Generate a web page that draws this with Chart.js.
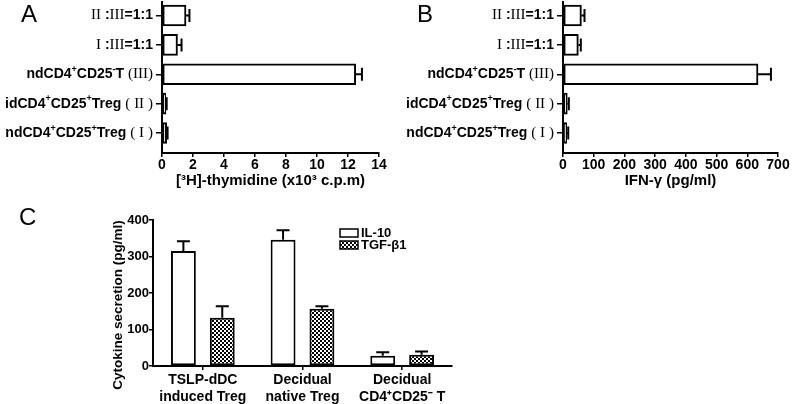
<!DOCTYPE html>
<html><head><meta charset="utf-8">
<script src="https://cdn.jsdelivr.net/npm/chart.js@4.4.0/dist/chart.umd.min.js"></script>
<style>
html,body{margin:0;padding:0;background:#fff;}
#wrap{position:relative;width:794px;height:404px;overflow:hidden;background:#fff;}
canvas{position:absolute;display:block;}
.pl{position:absolute;font-family:'Liberation Sans',Arial,sans-serif;font-size:24px;color:#000;line-height:1;}
</style></head><body>
<div id="wrap">
  <canvas id="cA" width="400" height="200" style="left:0;top:0"></canvas>
  <canvas id="cB" width="394" height="200" style="left:400px;top:0"></canvas>
  <canvas id="cC" width="370" height="204" style="left:100px;top:200px"></canvas>
  <div class="pl" style="left:21px;top:2px">A</div>
  <div class="pl" style="left:417px;top:2px">B</div>
  <div class="pl" style="left:19px;top:205px">C</div>
</div>
<script>
// ---------- data ----------
const catsAB = ['Ⅱ :Ⅲ=1:1', 'Ⅰ :Ⅲ=1:1', 'ndCD4⁺CD25⁻T (Ⅲ)', 'idCD4⁺CD25⁺Treg ( Ⅱ )', 'ndCD4⁺CD25⁺Treg ( Ⅰ )'];
const thymidine    = [1.55, 1.0, 12.5, 0.25, 0.3];
const thymidineErr = [0.22, 0.26, 0.4, 0.05, 0.06];
const ifnGamma     = [60, 50, 635, 14, 12];
const ifnGammaErr  = [10, 8, 42, 5, 5];
const ticksThymidine = [0, 2, 4, 6, 8, 10, 12, 14];
const ticksIfn       = [0, 100, 200, 300, 400, 500, 600, 700];
const titleA = '[³H]-thymidine (x10³ c.p.m)';
const titleB = 'IFN-γ (pg/ml)';

const catsC = [['TSLP-dDC', 'induced Treg'], ['Decidual', 'native Treg'], ['Decidual', 'CD4⁺CD25⁻ T']];
const il10     = [315, 346, 28];
const il10Err  = [27, 26, 10];
const tgfb1    = [132, 157, 31];
const tgfb1Err = [32, 7, 9];
const ticksC   = [0, 100, 200, 300, 400];
const seriesNamesC = ['IL-10', 'TGF-β1'];
const yTitleC = 'Cytokine secretion (pg/ml)';

// ---------- helpers ----------
const SANS = "'Liberation Sans', Arial, sans-serif";
const SERIF = "'Liberation Serif', 'Times New Roman', serif";
const ROMAN = {'Ⅰ': 'I', 'Ⅱ': 'II', 'Ⅲ': 'III'};
function splitRich(s) {
  const segs = [];
  for (const ch of s) {
    let k = 'b', t = ch;
    if (ROMAN[ch]) { k = 'r'; t = ROMAN[ch]; }
    else if (ch === '⁺') { k = 's'; t = '+'; }
    else if (ch === '⁻') { k = 's'; t = '-'; }
    else if (ch === '(' || ch === ')') { k = 'r'; }
    const last = segs[segs.length - 1];
    if (last && last.k === k) last.t += t; else segs.push({k, t});
  }
  return segs;
}
function segFont(k) {
  return k === 'r' ? `15px ${SERIF}` : (k === 's' ? `bold 9px ${SANS}` : `bold 14px ${SANS}`);
}
const richLabels = {
  id: 'richLabels',
  afterDraw(chart) {
    const ys = chart.scales.y, ctx = chart.ctx, left = chart.chartArea.left;
    ctx.save();
    ctx.fillStyle = '#000';
    ctx.textBaseline = 'middle';
    catsAB.forEach((lab, i) => {
      const segs = splitRich(lab);
      let w = 0;
      segs.forEach(s => { ctx.font = segFont(s.k); s.w = ctx.measureText(s.t).width; w += s.w; });
      let x = left - 9 - w;
      const y = ys.getPixelForValue(i);
      segs.forEach(s => { ctx.font = segFont(s.k); ctx.fillText(s.t, x, s.k === 's' ? y - 5 : y); x += s.w; });
    });
    ctx.restore();
  }
};
const errorBars = {
  id: 'errorBars',
  afterDatasetsDraw(chart) {
    const ctx = chart.ctx;
    const horiz = chart.options.indexAxis === 'y';
    const vScale = horiz ? chart.scales.x : chart.scales.y;
    const cap = 13;
    chart.data.datasets.forEach((ds, di) => {
      if (!ds.errors) return;
      const meta = chart.getDatasetMeta(di);
      meta.data.forEach((el, i) => {
        const d = ds.data[i];
        const val = (typeof d === 'object') ? d.x : d;
        const p0 = vScale.getPixelForValue(val);
        const p1 = vScale.getPixelForValue(val + ds.errors[i]);
        ctx.save();
        ctx.strokeStyle = '#000';
        ctx.lineWidth = 2;
        ctx.beginPath();
        if (horiz) {
          const y = el.y;
          ctx.moveTo(p0, y); ctx.lineTo(p1, y);
          ctx.moveTo(p1, y - cap / 2); ctx.lineTo(p1, y + cap / 2);
        } else {
          const x = el.x;
          ctx.moveTo(x, p0); ctx.lineTo(x, p1);
          ctx.moveTo(x - cap / 2, p1); ctx.lineTo(x + cap / 2, p1);
        }
        ctx.stroke();
        ctx.restore();
      });
    });
  }
};

function horizChart(id, values, errors, ticks, title, yWidth, padRight) {
  return new Chart(document.getElementById(id), {
    type: 'bar',
    data: {
      datasets: [{
        data: values.map((v, i) => ({x: v, y: i})),
        errors: errors,
        backgroundColor: '#fff',
        borderColor: '#000',
        borderWidth: 2,
        borderSkipped: false,
        barThickness: 21
      }]
    },
    options: {
      indexAxis: 'y',
      responsive: false,
      animation: false,
      layout: {padding: {top: 2, right: padRight, left: 0, bottom: 0}},
      plugins: {legend: {display: false}, tooltip: {enabled: false}},
      scales: {
        y: {
          type: 'linear', reverse: true, min: -0.46, max: 4.68, offset: false,
          afterBuildTicks: s => { s.ticks = catsAB.map((_, i) => ({value: i})); },
          afterFit: s => { s.width = yWidth; },
          ticks: {display: false},
          grid: {offset: false, drawOnChartArea: false, drawTicks: true, tickLength: 6, color: '#000', lineWidth: 1.5},
          border: {display: true, color: '#000', width: 2}
        },
        x: {
          type: 'linear', min: ticks[0], max: ticks[ticks.length - 1],
          afterBuildTicks: s => { s.ticks = ticks.map(v => ({value: v})); },
          afterFit: s => { s.height = 47; },
          ticks: {color: '#000', font: {family: SANS, size: 14, weight: 'bold'}, padding: 0, maxRotation: 0, autoSkip: false},
          grid: {drawOnChartArea: false, drawTicks: true, tickLength: 4, color: '#000', lineWidth: 1.5},
          border: {display: true, color: '#000', width: 2},
          title: {display: true, text: title, color: '#000', font: {family: SANS, size: 15, weight: 'bold'}, padding: {top: 0, bottom: 10}}
        }
      }
    },
    plugins: [richLabels, errorBars]
  });
}
horizChart('cA', thymidine, thymidineErr, ticksThymidine, titleA, 162, 21);
horizChart('cB', ifnGamma, ifnGammaErr, ticksIfn, titleB, 163, 16);

// ---------- panel C ----------
function checker() {
  const c = document.createElement('canvas');
  c.width = 4; c.height = 4;
  const g = c.getContext('2d');
  g.fillStyle = '#fff'; g.fillRect(0, 0, 4, 4);
  g.fillStyle = '#000'; g.fillRect(0, 0, 2, 2); g.fillRect(2, 2, 2, 2);
  return g.createPattern(c, 'repeat');
}
const pat = checker();
const legendC = {
  id: 'legendC',
  afterDraw(chart) {
    const ctx = chart.ctx, ca = chart.chartArea;
    const x0 = ca.left + 187, y0 = ca.top + 9;
    ctx.save();
    chart.data.datasets.forEach((ds, i) => {
      const y = y0 + i * 12;
      ctx.fillStyle = ds.backgroundColor;
      ctx.fillRect(x0, y, 18, 8);
      ctx.strokeStyle = '#000'; ctx.lineWidth = 1.5;
      ctx.strokeRect(x0, y, 18, 8);
      ctx.fillStyle = '#000';
      ctx.font = `bold 13px ${SANS}`;
      ctx.textBaseline = 'middle';
      ctx.fillText(ds.label, x0 + 21, y + 4.5);
    });
    // y-axis title
    ctx.translate(18, (ca.top + ca.bottom) / 2 + 12);
    ctx.rotate(-Math.PI / 2);
    ctx.textAlign = 'center';
    ctx.textBaseline = 'middle';
    ctx.font = `bold 13.5px ${SANS}`;
    ctx.fillText(yTitleC, 0, 0);
    ctx.restore();
  }
};
new Chart(document.getElementById('cC'), {
  type: 'bar',
  data: {
    labels: catsC,
    datasets: [
      {label: seriesNamesC[0], data: il10, errors: il10Err, backgroundColor: '#fff', borderColor: '#000', borderWidth: 2, borderSkipped: false},
      {label: seriesNamesC[1], data: tgfb1, errors: tgfb1Err, backgroundColor: pat, borderColor: '#000', borderWidth: 2, borderSkipped: false}
    ]
  },
  options: {
    responsive: false,
    animation: false,
    categoryPercentage: 0.78,
    barPercentage: 0.64,
    layout: {padding: {top: 20, right: 18, left: 0, bottom: 0}},
    plugins: {legend: {display: false}, tooltip: {enabled: false}},
    scales: {
      y: {
        min: 0, max: 400,
        afterBuildTicks: s => { s.ticks = ticksC.map(v => ({value: v})); },
        afterFit: s => { s.width = 53; },
        ticks: {color: '#000', font: {family: SANS, size: 13, weight: 'bold'}, padding: 0},
        grid: {drawOnChartArea: false, drawTicks: true, tickLength: 4, color: '#000', lineWidth: 1.5},
        border: {display: true, color: '#000', width: 2}
      },
      x: {
        afterFit: s => { s.height = 38; },
        ticks: {color: '#000', font: {family: SANS, size: 14, weight: 'bold', lineHeight: 1.2}, padding: 2, maxRotation: 0, autoSkip: false},
        grid: {offset: false, drawOnChartArea: false, drawTicks: true, tickLength: 4, color: '#000', lineWidth: 1.5},
        border: {display: true, color: '#000', width: 2}
      }
    }
  },
  plugins: [errorBars, legendC]
});
</script>
</body></html>
